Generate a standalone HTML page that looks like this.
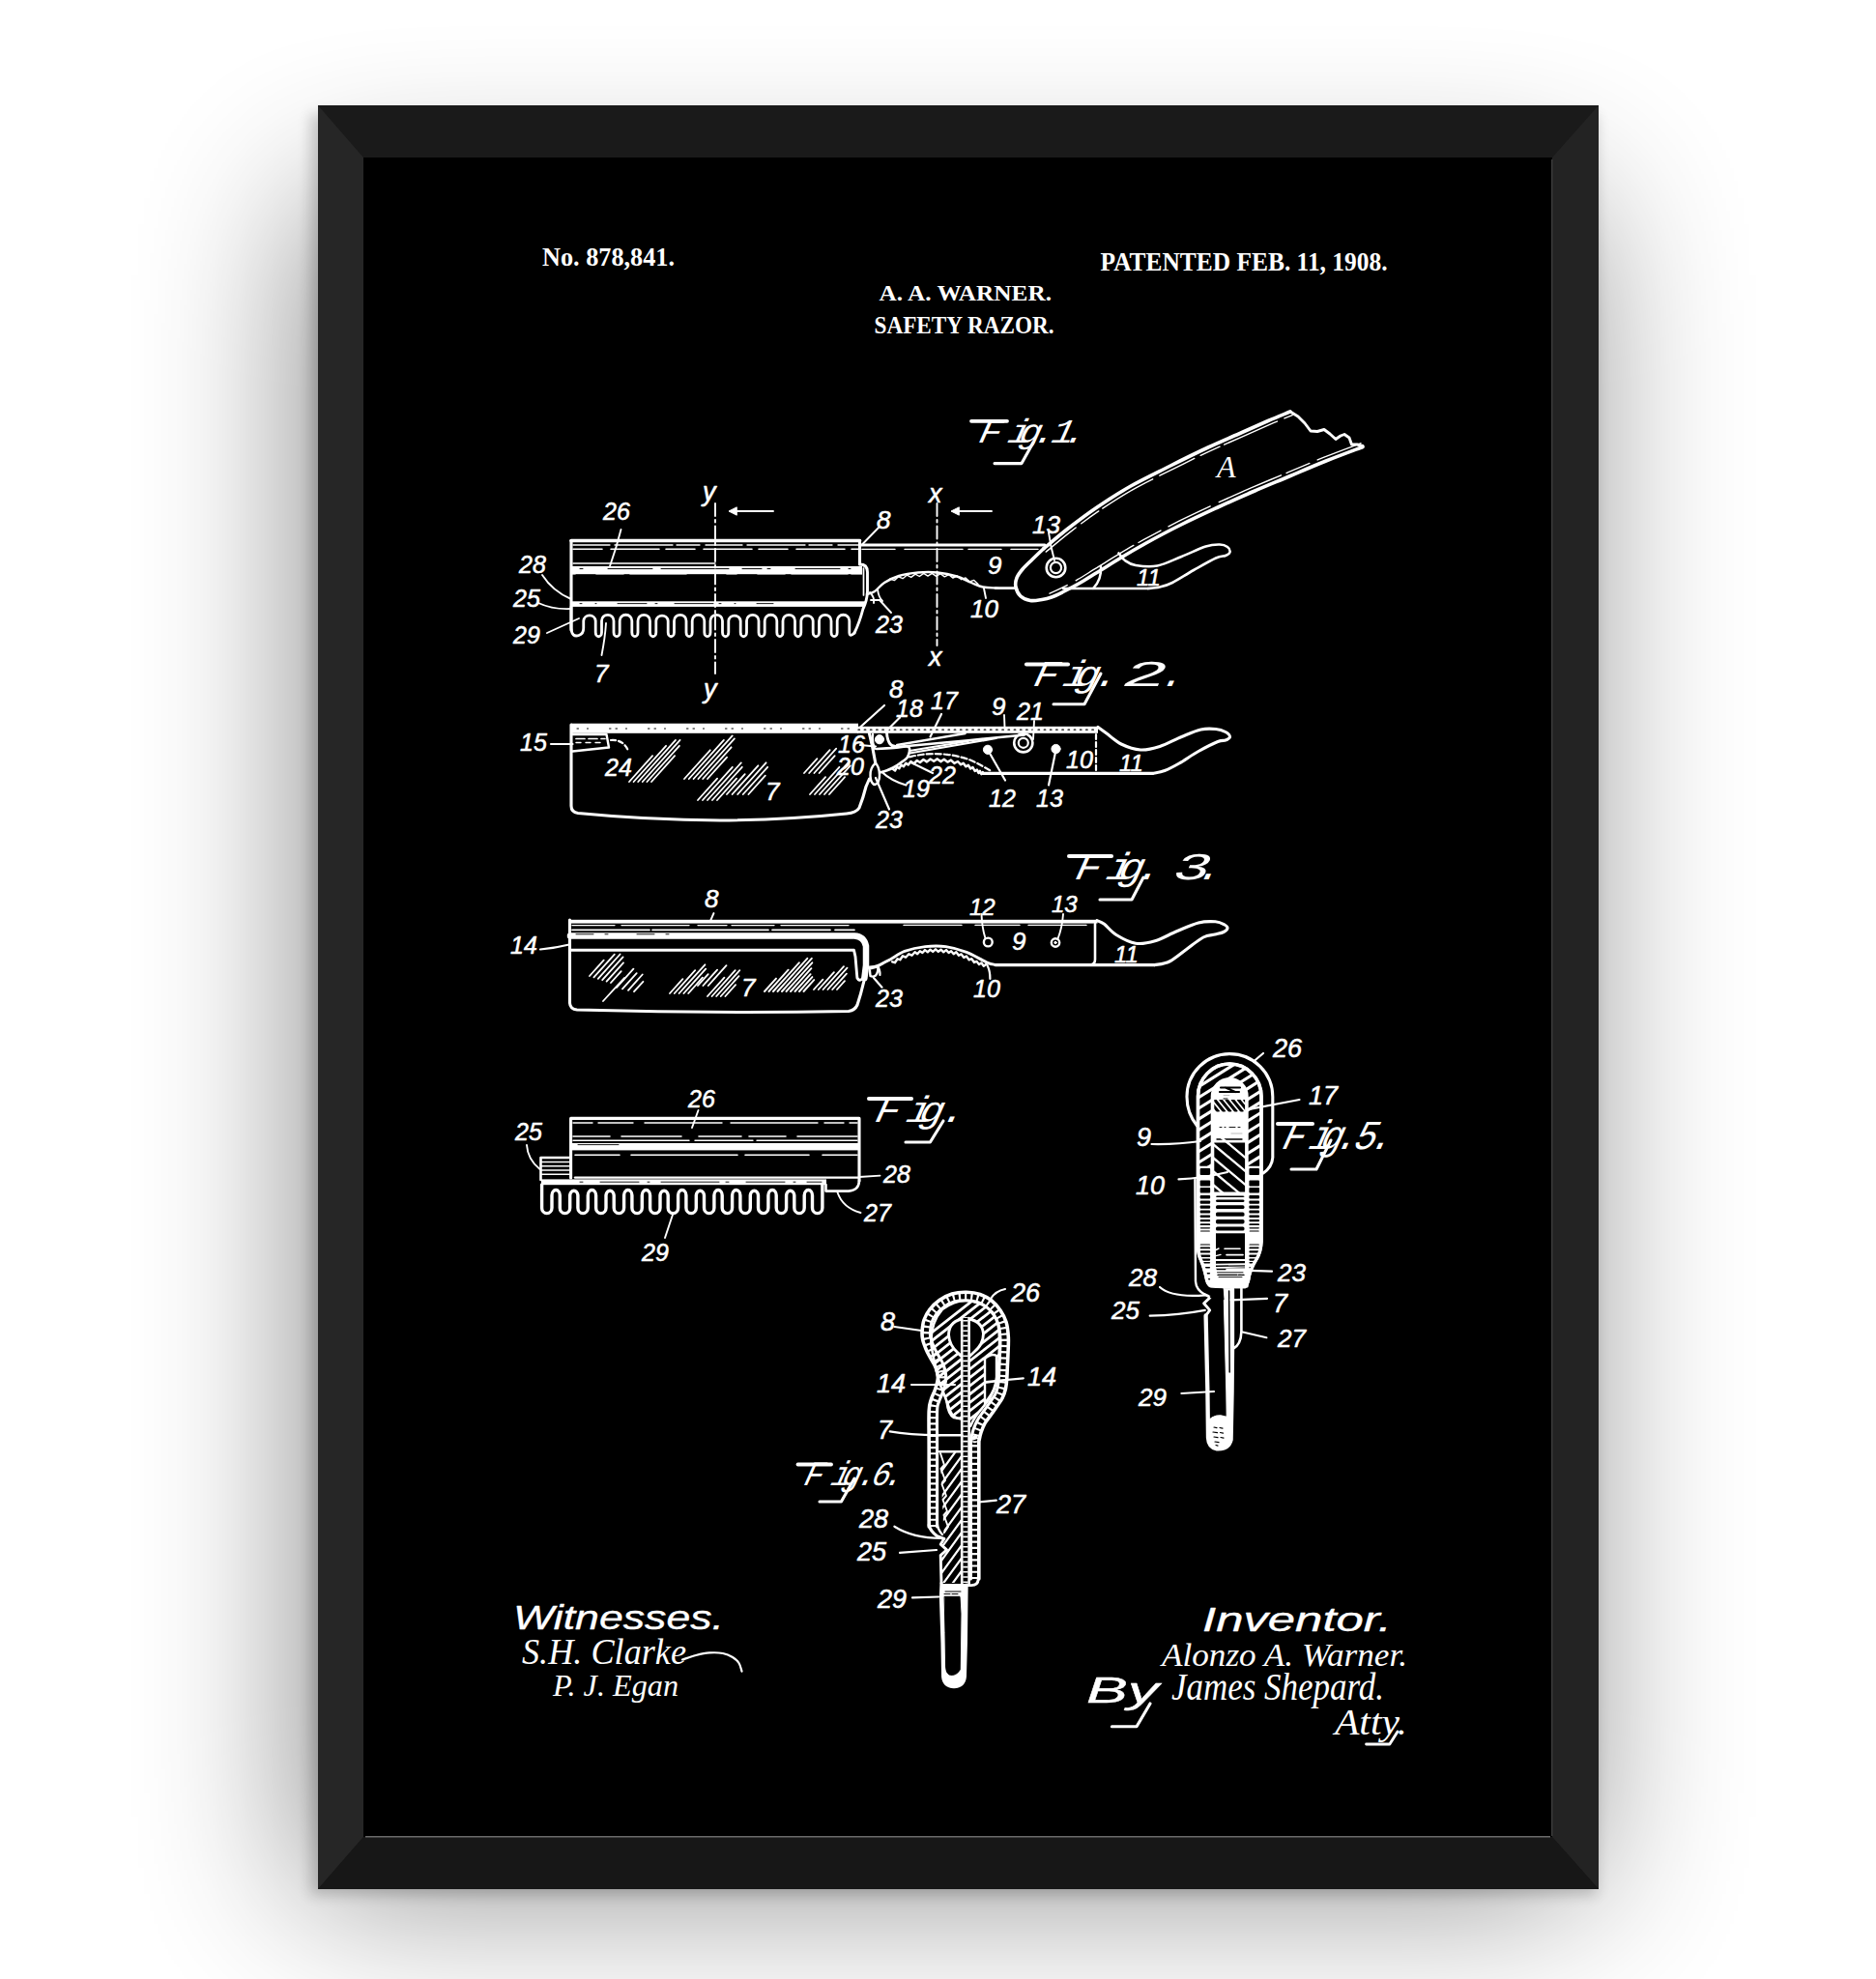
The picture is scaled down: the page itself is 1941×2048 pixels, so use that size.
<!DOCTYPE html>
<html lang="en"><head><meta charset="utf-8"><title>Safety Razor 1908 Patent Print</title>
<style>
html,body{margin:0;padding:0;background:#fff;}
body{width:1941px;height:2048px;overflow:hidden;position:relative;}
svg{display:block;position:absolute;left:0;top:0;}
.art{stroke:#fff;fill:none;stroke-linecap:round;stroke-linejoin:round;}
.art text{stroke:none;fill:#fff;}
.art text.n{stroke:#fff;stroke-width:.55px;}
.art text.wd{stroke:#fff;stroke-width:.35px;}
.art text.sg{stroke:none;}
.h{font-family:"Liberation Serif","DejaVu Serif",serif;font-weight:bold;}
.n{font-family:"Liberation Sans","DejaVu Sans",sans-serif;font-style:italic;}
.sg{font-family:"Liberation Serif","DejaVu Serif",serif;font-style:italic;}
.fm{font-family:"Liberation Mono","DejaVu Sans Mono",monospace;}
.wd{font-family:"Liberation Sans","DejaVu Sans",sans-serif;font-style:italic;}
</style></head><body>
<svg width="1941" height="2048" viewBox="0 0 1941 2048">
<defs>
<filter id="b1" x="-40%" y="-40%" width="180%" height="180%"><feGaussianBlur stdDeviation="85"/></filter>
<filter id="b2" x="-10%" y="-10%" width="120%" height="120%"><feGaussianBlur stdDeviation="7"/></filter>
</defs>
<rect width="1941" height="2048" fill="#fff"/>
<rect x="314" y="205" width="1325" height="1755" fill="#000" opacity="0.45" filter="url(#b1)"/>
<rect x="321" y="118" width="1331" height="1843" fill="#000" opacity="0.18" filter="url(#b2)"/>
<!-- frame -->
<rect x="329" y="109" width="1325" height="1846" fill="#1a1a1a"/>
<polygon points="329,109 1654,109 1606,163 376,163" fill="#1a1a1a"/>
<polygon points="329,109 376,163 376,1901 329,1955" fill="#262626"/>
<polygon points="1654,109 1654,1955 1606,1901 1606,163" fill="#232323"/>
<polygon points="329,1955 376,1901 1606,1901 1654,1955" fill="#171717"/>
<rect x="376" y="163" width="1230" height="1738" fill="#000"/>
<rect x="378" y="1900" width="1226" height="1.5" fill="#6a6a6a"/>
<rect x="1605" y="165" width="1.5" height="1735" fill="#3a3a3a"/>
<g class="art">
<text class="h" x="561" y="274.5" font-size="28" textLength="137" lengthAdjust="spacingAndGlyphs">No. 878,841.</text>
<text class="h" x="1138.5" y="280" font-size="28" textLength="297" lengthAdjust="spacingAndGlyphs">PATENTED FEB. 11, 1908.</text>
<text class="h" x="909.5" y="310.5" font-size="24" textLength="178.5" lengthAdjust="spacingAndGlyphs">A. A. WARNER.</text>
<text class="h" x="904.5" y="344.5" font-size="25" textLength="186" lengthAdjust="spacingAndGlyphs">SAFETY RAZOR.</text>
<path d="M591,652 V559.5 H889.5 V584" stroke-width="3.1" fill="none"/>
<line x1="591" y1="559.5" x2="889.5" y2="559.5" stroke-width="3.6"/>
<line x1="593" y1="564" x2="888" y2="564" stroke-width="1.3" stroke-dasharray="38 5 60 4 24 6"/>
<line x1="593" y1="568.3" x2="888" y2="568.3" stroke-width="1.6" stroke-dasharray="30 9 50 7"/>
<line x1="593" y1="583" x2="740" y2="583" stroke-width="1.4"/>
<rect x="592" y="586" width="300" height="8.6" fill="#fff" stroke="none"/>
<line x1="600" y1="588.6" x2="880" y2="588.6" stroke-width="1" stroke="#000" stroke-dasharray="3 26 46 9 70 14 20 6"/>
<line x1="596" y1="594.8" x2="880" y2="594.8" stroke-width="1" stroke="#000" stroke-dasharray="20 30 5 60 40 12"/>
<path d="M889.5,584 Q897.5,584 897.5,592 V612 Q897,622 893,630 Q889,645 884,655" stroke-width="2.9" fill="none"/>
<line x1="893.5" y1="588" x2="893.5" y2="616" stroke-width="1.7"/>
<rect x="591" y="622.3" width="304" height="5.6" fill="#fff" stroke="none"/>
<line x1="600" y1="624.6" x2="800" y2="624.6" stroke-width="0.9" stroke="#000" stroke-dasharray="2 14 1 22 30 9 2 18 40 6"/>
<path d="M591,628 V650 Q591.5,660 599,657.5 Q603.75,656 603.75,650 V642.5 A6.25,6.2 0 0 1 616.2,642.5 V654.5 A3.1,4.2 0 0 0 622.5,654.5 V642.5 A6.25,6.2 0 0 1 635,642.5 V654.5 A3.1,4.2 0 0 0 641.2,654.5 V642.5 A6.25,6.2 0 0 1 653.8,642.5 V654.5 A3.1,4.2 0 0 0 660,654.5 V642.5 A6.25,6.2 0 0 1 672.5,642.5 V654.5 A3.1,4.2 0 0 0 678.8,654.5 V642.5 A6.25,6.2 0 0 1 691.2,642.5 V654.5 A3.1,4.2 0 0 0 697.5,654.5 V642.5 A6.25,6.2 0 0 1 710,642.5 V654.5 A3.1,4.2 0 0 0 716.2,654.5 V642.5 A6.25,6.2 0 0 1 728.8,642.5 V654.5 A3.1,4.2 0 0 0 735,654.5 V642.5 A6.25,6.2 0 0 1 747.5,642.5 V654.5 A3.1,4.2 0 0 0 753.8,654.5 V642.5 A6.25,6.2 0 0 1 766.2,642.5 V654.5 A3.1,4.2 0 0 0 772.5,654.5 V642.5 A6.25,6.2 0 0 1 785,642.5 V654.5 A3.1,4.2 0 0 0 791.2,654.5 V642.5 A6.25,6.2 0 0 1 803.8,642.5 V654.5 A3.1,4.2 0 0 0 810,654.5 V642.5 A6.25,6.2 0 0 1 822.5,642.5 V654.5 A3.1,4.2 0 0 0 828.8,654.5 V642.5 A6.25,6.2 0 0 1 841.2,642.5 V654.5 A3.1,4.2 0 0 0 847.5,654.5 V642.5 A6.25,6.2 0 0 1 860,642.5 V654.5 A3.1,4.2 0 0 0 866.2,654.5 V642.5 A6.25,6.2 0 0 1 878.8,642.5 V654.5 Q879,660 884,655" stroke-width="2.8" fill="none"/>
<line x1="740" y1="521" x2="740" y2="697" stroke-width="1.9" stroke-dasharray="13 4 2.5 4"/>
<line x1="969.5" y1="521" x2="969.5" y2="668" stroke-width="1.9" stroke-dasharray="13 4 2.5 4"/>
<text class="n" x="727" y="518" font-size="27">y</text>
<text class="n" x="728" y="722" font-size="27">y</text>
<text class="n" x="961" y="520" font-size="27">x</text>
<text class="n" x="961" y="689" font-size="27">x</text>
<line x1="756" y1="529" x2="800" y2="529" stroke-width="1.9"/>
<path d="M762,525 L754,529 L762,533 Z" stroke-width="1" fill="#fff"/>
<line x1="986" y1="529" x2="1026" y2="529" stroke-width="1.9"/>
<path d="M992,525 L984,529 L992,533 Z" stroke-width="1" fill="#fff"/>
<line x1="889.5" y1="564" x2="1081" y2="564" stroke-width="3.1"/>
<line x1="892" y1="568.4" x2="1074" y2="568.4" stroke-width="1.4" stroke-dasharray="34 10 60 6"/>
<path d="M897,615 C898.3,614.5 902,614 905,612 C908,610 910.8,605.7 915,603 C919.2,600.3 924.2,597.8 930,596 C935.8,594.2 943.3,593.1 950,592.5 C956.7,591.9 963.3,591.8 970,592.5 C976.7,593.2 984.2,594.8 990,596.5 C995.8,598.2 1000.5,601.2 1005,603 C1009.5,604.8 1012.8,606.6 1017,607.5 C1021.2,608.4 1024.3,608.3 1030,608.5 C1035.7,608.7 1047.5,608.8 1051,608.8" stroke-width="2.4" fill="none"/>
<path d="M921,599 L925.3,600.6 L929.7,596.8 L934,598.7 L938.3,595.2 L942.7,597.4 L947,594.1 L951.3,596.5 L955.7,593.4 L960,596.1 L964.3,593.3 L968.7,596.3 L973,593.7 L977.3,596.9 L981.7,594.6 L986,598.1 L990.3,596 L994.7,599.7 L999,597.9 L1003.3,601.9 L1007.7,600.4 L1012,604.6" stroke-width="1.4" fill="none"/>
<path d="M900,613 Q905,618 904,624 M908,610 Q909,618 913,622 M901,621 H910" stroke-width="1.9" fill="none"/>
<path d="M1080,567.5 C1084.2,564.1 1095.8,554.1 1105,547 C1114.2,539.9 1124.2,532.3 1135,525 C1145.8,517.7 1157.5,510.1 1170,503 C1182.5,495.9 1196.7,489.2 1210,482.5 C1223.3,475.8 1237.5,468.8 1250,463 C1262.5,457.2 1274.7,452.1 1285,447.5 C1295.3,442.9 1303.7,439.1 1312,435.5 C1320.3,431.9 1331.2,427.6 1335,426" stroke-width="3.6" fill="none"/>
<path d="M1410,462.5 C1403.7,464.9 1384.5,472 1372,477 C1359.5,482 1347.5,487.2 1335,492.5 C1322.5,497.8 1309.5,503.1 1297,508.5 C1284.5,513.9 1272.5,519.2 1260,525 C1247.5,530.8 1234.5,536.8 1222,543 C1209.5,549.2 1195.3,556.8 1185,562.5 C1174.7,568.2 1168.3,572 1160,577 C1151.7,582 1142.2,588.1 1135,592.5 C1127.8,596.9 1122.8,600.2 1117,603.5 C1111.2,606.8 1104.8,610.1 1100,612.5 C1095.2,614.9 1091.7,616.7 1088,618 C1084.3,619.3 1081.7,619.9 1078,620.5 C1074.3,621.1 1069.7,622.1 1066,621.5 C1062.3,620.9 1058.5,619.3 1056,617 C1053.5,614.7 1051.7,610.7 1051,607.5 C1050.3,604.3 1050.8,601.1 1052,598 C1053.2,594.9 1055.3,592.2 1058,589 C1060.7,585.8 1064.3,582.6 1068,579 C1071.7,575.4 1078,569.4 1080,567.5" stroke-width="3.6" fill="none"/>
<path d="M1335,426 L1343,431 L1350,438 L1356,446 L1363,446.5 L1370,444.5 L1376,449 L1382,454.5 L1387,451 L1391,449.5 L1396,453 L1398.5,460 L1404,460 L1410,461.5" stroke-width="2.9" fill="none"/>
<path d="M1082.2,571.1 C1086.4,567.7 1098,557.7 1107.2,550.6 C1116.4,543.5 1126.4,535.9 1137.2,528.6 C1148,521.3 1159.7,513.7 1172.2,506.6 C1184.7,499.5 1198.9,492.8 1212.2,486.1 C1225.5,479.4 1239.7,472.4 1252.2,466.6 C1264.7,460.8 1276.9,455.7 1287.2,451.1 C1297.5,446.5 1305.9,442.7 1314.2,439.1 C1322.5,435.5 1333.4,431.2 1337.2,429.6" stroke-width="1.4" fill="none" stroke-dasharray="40 7 22 5 60 8"/>
<path d="M1408,458.7 C1401.7,461.1 1382.5,468.2 1370,473.2 C1357.5,478.2 1345.5,483.4 1333,488.7 C1320.5,493.9 1307.5,499.3 1295,504.7 C1282.5,510.1 1270.5,515.5 1258,521.2 C1245.5,527 1232.5,533 1220,539.2 C1207.5,545.5 1193.3,553 1183,558.7 C1172.7,564.4 1166.3,568.2 1158,573.2 C1149.7,578.2 1140.2,584.3 1133,588.7 C1125.8,593.1 1120.8,596.4 1115,599.7 C1109.2,603 1102.8,606.3 1098,608.7 C1093.2,611.1 1088,613.3 1086,614.2" stroke-width="1.4" fill="none" stroke-dasharray="48 9 26 6 70 10"/>
<circle cx="1092.5" cy="587.5" r="9.8" stroke-width="2.6" fill="none"/>
<circle cx="1092.5" cy="587.5" r="5.6" stroke-width="2.2" fill="none"/>
<path d="M1085,551 Q1087,566 1091,580" stroke-width="1.9" fill="none"/>
<path d="M1157.5,572.5 C1158.6,573.8 1161.1,577.9 1164,580 C1166.9,582.1 1169.4,584.1 1175,585 C1180.6,585.9 1189.6,587 1197.5,585.5 C1205.4,584 1214.2,579.3 1222.5,576 C1230.8,572.7 1240.9,567.6 1247.5,565.5 C1254.1,563.4 1258.2,563.4 1262,563.5 C1265.8,563.6 1268.2,564.7 1270,566 C1271.8,567.3 1272.8,570 1272.5,571.5 C1272.2,573 1270.4,574 1268,575 C1265.6,576 1263.5,575 1258,577.5 C1252.5,580 1242.5,585.8 1235,590 C1227.5,594.2 1218.8,600.1 1213,603 C1207.2,605.9 1204.2,606.5 1200,607.5 C1195.8,608.5 1190,608.8 1188,609" stroke-width="2.6" fill="none"/>
<line x1="1100" y1="609" x2="1188" y2="609" stroke-width="2.6"/>
<path d="M1139,586 Q1140,600 1131,609" stroke-width="2.4" fill="none"/>
<line x1="1030" y1="608.8" x2="1051" y2="608.8" stroke-width="2.4"/>
<text class="n" x="1068" y="552" font-size="26">13</text>
<text class="n" x="1022" y="594" font-size="26">9</text>
<text class="n" x="1004" y="639" font-size="26">10</text>
<line x1="1018" y1="609" x2="1020" y2="619" stroke-width="1.9"/>
<text class="n" x="1176" y="606" font-size="24">11</text>
<text class="sg" x="1259" y="494" font-size="32">A</text>
<text class="n" x="624" y="538" font-size="25">26</text>
<path d="M642.5,548 Q638,566 631,586" stroke-width="1.9" fill="none"/>
<text class="n" x="537" y="593" font-size="25">28</text>
<path d="M561,595 Q572,612 591,620" stroke-width="1.9" fill="none"/>
<text class="n" x="531" y="628" font-size="25">25</text>
<path d="M557,624 Q572,631 591,630" stroke-width="1.9" fill="none"/>
<text class="n" x="531" y="666" font-size="25">29</text>
<line x1="566" y1="655" x2="599" y2="640" stroke-width="1.9"/>
<text class="n" x="615" y="706" font-size="26">7</text>
<path d="M622.5,678 Q626,660 627,645" stroke-width="1.9" fill="none"/>
<text class="n" x="907" y="547" font-size="26">8</text>
<line x1="909" y1="546" x2="892.5" y2="563" stroke-width="1.9"/>
<text class="n" x="906" y="655" font-size="25">23</text>
<line x1="922" y1="634" x2="910" y2="621" stroke-width="1.9"/>
<g transform="translate(1009.4,458) skewX(-24) scale(1.1,1)"><text class="fm" x="0 27.7 38.1 51.3 68.5 80" y="0" font-size="34.8" stroke="#fff" stroke-width="1.4">Fig.1.</text></g>
<path d="M1029,479.6 H1057 L1069,458" stroke-width="3.1" fill="none"/>
<line x1="1005" y1="435.8" x2="1042" y2="435.8" stroke-width="3.8"/>
<rect x="591" y="748.7" width="297" height="10.1" fill="#fff" stroke="none"/>
<rect x="887" y="751.8" width="249" height="7" fill="#fff" stroke="none"/>
<line x1="597" y1="754" x2="885" y2="754" stroke-width="1" stroke="#000" stroke-dasharray="1.5 9 1 22 1.5 5"/>
<line x1="888" y1="755.2" x2="1134" y2="755.2" stroke-width="1.2" stroke="#000" stroke-dasharray="1.6 4.6"/>
<path d="M591,750 V834 Q591,840.5 598,841.5 Q670,848.5 745,849 Q815,848.5 876,842 Q886,841 889,836 Q893,826 896,814 L899.5,806" stroke-width="3.1" fill="none"/>
<path d="M899.4,758.8 L902.6,772.6 L905.8,789.7" stroke-width="3.1" fill="none"/>
<path d="M905.8,789.7 Q900,795 900.5,803 Q901,811 905,812 Q910,811 910,802 Q910,794 905.8,789.7 Z" stroke-width="2.4" fill="none"/>
<path d="M899.5,806 Q902,809 904,812" stroke-width="1.9" fill="none"/>
<path d="M592.5,760 H627.5 L630,773.5 L592.5,777.5" stroke-width="2.4" fill="none"/>
<line x1="596" y1="764.5" x2="626" y2="764.5" stroke-width="1.7" stroke-dasharray="9 4"/>
<line x1="596" y1="768.5" x2="622" y2="768.5" stroke-width="1.4" stroke-dasharray="5 5"/>
<path d="M632,766 Q645,765 650,777" stroke-width="2.2" fill="none" stroke-dasharray="5 3"/>
<line x1="651" y1="809" x2="675.1" y2="782.2" stroke-width="1.8"/>
<line x1="655.6" y1="809" x2="689.1" y2="771.8" stroke-width="1.8"/>
<line x1="660.2" y1="809" x2="699" y2="765.9" stroke-width="1.8"/>
<line x1="664.8" y1="809" x2="703.6" y2="765.9" stroke-width="1.8"/>
<line x1="669.4" y1="809" x2="702.9" y2="771.8" stroke-width="1.8"/>
<line x1="674" y1="809" x2="698.1" y2="782.2" stroke-width="1.8"/>
<line x1="708" y1="806" x2="734.8" y2="776.3" stroke-width="1.8"/>
<line x1="712.8" y1="806" x2="748.9" y2="765.9" stroke-width="1.8"/>
<line x1="717.6" y1="806" x2="757.7" y2="761.4" stroke-width="1.8"/>
<line x1="722.4" y1="806" x2="759.9" y2="764.4" stroke-width="1.8"/>
<line x1="727.2" y1="806" x2="756.6" y2="773.3" stroke-width="1.8"/>
<line x1="732" y1="806" x2="752.1" y2="783.7" stroke-width="1.8"/>
<line x1="722" y1="828" x2="742.1" y2="805.7" stroke-width="1.8"/>
<line x1="727" y1="828" x2="757.8" y2="793.8" stroke-width="1.8"/>
<line x1="732" y1="828" x2="766.8" y2="789.4" stroke-width="1.8"/>
<line x1="737" y1="828" x2="767.8" y2="793.8" stroke-width="1.8"/>
<line x1="742" y1="828" x2="762.1" y2="805.7" stroke-width="1.8"/>
<line x1="752" y1="822" x2="770.7" y2="801.2" stroke-width="1.8"/>
<line x1="757.6" y1="822" x2="784.4" y2="792.3" stroke-width="1.8"/>
<line x1="763.2" y1="822" x2="792.6" y2="789.3" stroke-width="1.8"/>
<line x1="768.8" y1="822" x2="794.2" y2="793.8" stroke-width="1.8"/>
<line x1="774.4" y1="822" x2="791.8" y2="802.7" stroke-width="1.8"/>
<line x1="832" y1="800" x2="845.4" y2="785.1" stroke-width="1.8"/>
<line x1="837.2" y1="800" x2="858.6" y2="776.2" stroke-width="1.8"/>
<line x1="842.4" y1="800" x2="865.2" y2="774.7" stroke-width="1.8"/>
<line x1="847.6" y1="800" x2="863.7" y2="782.2" stroke-width="1.8"/>
<line x1="838" y1="822" x2="854.1" y2="804.2" stroke-width="1.8"/>
<line x1="843" y1="822" x2="868.4" y2="793.8" stroke-width="1.8"/>
<line x1="848" y1="822" x2="878.8" y2="787.8" stroke-width="1.8"/>
<line x1="853" y1="822" x2="879.8" y2="792.3" stroke-width="1.8"/>
<line x1="858" y1="822" x2="874.1" y2="804.2" stroke-width="1.8"/>
<circle cx="910" cy="765.2" r="4.6" stroke-width="1" fill="#fff"/>
<path d="M917.6,758.8 Q918,765 920,768.5 Q922,772.6 928.2,772.6" stroke-width="2.9" fill="none"/>
<path d="M903,760 Q902,768 905,774.8" stroke-width="2.4" fill="none"/>
<line x1="890" y1="771" x2="906" y2="772.5" stroke-width="2.2"/>
<path d="M928.2,771 L998.6,759" stroke-width="2.4" fill="none"/>
<path d="M928.2,773 L1001.8,766.2 L1060,760.5" stroke-width="2.6" fill="none"/>
<path d="M941,777 L1001.8,767" stroke-width="2.2" fill="none"/>
<path d="M941,779.5 L1030.6,764" stroke-width="2.2" fill="none"/>
<path d="M907,775 C910,774.8 919.5,774.3 925,774 C930.5,773.7 937.7,771.5 940,773 C942.3,774.5 940.5,780.5 939,783.3 C937.5,786.1 933.5,788.1 931,790 C928.5,791.9 926.3,793.2 924,794.5 C921.7,795.8 919.2,796.7 917,797.5 C914.8,798.3 912,799 911,799.3" stroke-width="2.6" fill="none"/>
<path d="M941,783.3 C943,782.9 948.7,781.5 953,781 C957.3,780.5 962.1,780.1 966.6,780.1 C971.1,780.1 975.5,780.3 980,780.8 C984.5,781.3 989.1,782.3 993.3,783.3 C997.5,784.3 1001.5,785.6 1005,787 C1008.5,788.4 1011.4,790.1 1014.6,791.8 C1017.8,793.5 1022.6,796.3 1024.2,797.2" stroke-width="2.2" fill="none" stroke-dasharray="6 3"/>
<path d="M924,795.9 L926.1,797.4 L928.2,793.7 L930.4,795.2 L932.5,791.5 L934.9,793.2 L937.3,789.8 L939.7,791.5 L942.4,788.1 L945.6,790.2 L948.8,787 L951.9,789 L955.4,786 L959,788.4 L962.6,785.5 L966.2,787.8 L969.8,785.4 L973.3,788.1 L976.8,785.7 L980.4,788.6 L983.9,786.6 L987.4,789.9 L991,788 L994.2,791.3 L996.7,789.7 L999.3,793.3 L1001.9,791.8 L1004.2,795.5 L1006.5,794.1 L1008.7,798 L1010.9,796.6 L1012.5,800 L1013.9,797.9 L1015.3,801.1 L1016.7,799.1" stroke-width="2.5" fill="none"/>
<path d="M1016.7,800.4 H1192.5" stroke-width="3.1" fill="none"/>
<path d="M1136,752.5 C1137.5,753.6 1141,756.1 1145,759 C1149,761.9 1154.2,767.2 1160,770 C1165.8,772.8 1173.3,775.6 1180,776 C1186.7,776.4 1192.9,774.8 1200,772.5 C1207.1,770.2 1215.4,765.4 1222.5,762.5 C1229.6,759.6 1236.6,756.3 1242.5,755 C1248.4,753.7 1253.8,754.1 1258,754.5 C1262.2,754.9 1265.6,756.2 1268,757.5 C1270.4,758.8 1272.5,761.1 1272.5,762.5 C1272.5,763.9 1270.1,765.2 1268,766 C1265.9,766.8 1264.7,765.6 1260,767.5 C1255.3,769.4 1246.7,773.8 1240,777.5 C1233.3,781.2 1225.8,786.7 1220,790 C1214.2,793.3 1209.6,795.8 1205,797.5 C1200.4,799.2 1194.6,799.9 1192.5,800.4" stroke-width="3.1" fill="none"/>
<line x1="1134" y1="760" x2="1134" y2="800" stroke-width="2.2" stroke-dasharray="5 3"/>
<circle cx="1022" cy="775.8" r="4.6" stroke-width="1" fill="#fff"/>
<circle cx="1092.5" cy="775" r="4.6" stroke-width="1" fill="#fff"/>
<circle cx="1058.8" cy="768.8" r="9.6" stroke-width="2.6" fill="none"/>
<circle cx="1058.8" cy="768.8" r="5" stroke-width="2.2" fill="none"/>
<line x1="1022" y1="776" x2="1040" y2="807.5" stroke-width="2.2"/>
<line x1="1092.5" y1="776" x2="1085" y2="812.5" stroke-width="2.2"/>
<text class="n" x="538" y="777" font-size="25">15</text>
<line x1="570" y1="770" x2="592.5" y2="770" stroke-width="2.2"/>
<text class="n" x="626" y="803" font-size="25">24</text>
<text class="n" x="792" y="828" font-size="26">7</text>
<text class="n" x="920" y="722" font-size="26">8</text>
<line x1="915" y1="730" x2="890" y2="752.5" stroke-width="2.2"/>
<text class="n" x="927" y="742" font-size="25">18</text>
<line x1="931" y1="742.5" x2="916" y2="757.5" stroke-width="2.2"/>
<text class="n" x="963" y="734" font-size="25">17</text>
<line x1="974" y1="739" x2="962.5" y2="762.5" stroke-width="2.2"/>
<text class="n" x="867" y="779" font-size="25">16</text>
<text class="n" x="866" y="802" font-size="25">20</text>
<text class="n" x="961" y="811" font-size="25">22</text>
<line x1="965" y1="800" x2="942.5" y2="789" stroke-width="2.2"/>
<text class="n" x="934" y="825" font-size="25">19</text>
<path d="M937.5,812.5 Q922,808 912.5,799" stroke-width="2.2" fill="none"/>
<text class="n" x="906" y="857" font-size="25">23</text>
<line x1="920" y1="837.5" x2="906" y2="805" stroke-width="2.2"/>
<text class="n" x="1026" y="740" font-size="26">9</text>
<line x1="1039" y1="740" x2="1039.5" y2="752.5" stroke-width="1.9"/>
<text class="n" x="1052" y="745" font-size="25">21</text>
<line x1="1070" y1="746" x2="1069" y2="765" stroke-width="1.9"/>
<text class="n" x="1103" y="795" font-size="25">10</text>
<text class="n" x="1158" y="798" font-size="24">11</text>
<text class="n" x="1023" y="835" font-size="25">12</text>
<text class="n" x="1072" y="835" font-size="25">13</text>
<g transform="translate(1066.1,710.4) skewX(-24) scale(1.1,1)"><text class="fm" x="0 27.7 39 56.9" y="0" font-size="37.9" stroke="#fff" stroke-width="1.4">Fig.</text></g>
<g transform="translate(1157.7,710.4) skewX(-24) scale(2,1)"><text class="fm" x="0" y="0" font-size="37.9" stroke="#fff" stroke-width="1.4">2</text></g>
<g transform="translate(1197.5,710.4) skewX(-24) scale(1.1,1)"><text class="fm" x="0" y="0" font-size="37.9" stroke="#fff" stroke-width="1.4">.</text></g>
<path d="M1090,728.8 H1122 L1139,697" stroke-width="3.1" fill="none"/>
<line x1="1062" y1="687.5" x2="1105" y2="687.5" stroke-width="4.1"/>
<rect x="589.5" y="951.8" width="546" height="3.8" fill="#fff" stroke="none"/>
<line x1="592" y1="957.6" x2="885" y2="957.6" stroke-width="1.4" stroke-dasharray="44 7 70 9 30 5"/>
<line x1="935" y1="957.4" x2="1128" y2="957.4" stroke-width="1.4" stroke-dasharray="60 14 46 9"/>
<line x1="592" y1="962.3" x2="884" y2="962.3" stroke-width="1.7" stroke-dasharray="80 3 120 4 60 5"/>
<path d="M590,968.5 H884 Q894,969 896,979 V999 L894.4,1012" stroke-width="6.5" fill="none"/>
<line x1="596" y1="966.8" x2="700" y2="966.8" stroke-width="0.9" stroke="#000" stroke-dasharray="18 12 3 30"/>
<path d="M590,983.3 H883.5 L885,990 L886.9,1012 Q889,1016 892,1013" stroke-width="2.9" fill="none"/>
<path d="M589.5,952 V1038 Q590,1044.5 597,1045 Q740,1049 878,1046.5 Q884.5,1045.5 887,1040 Q891,1028 894.4,1013" stroke-width="3.1" fill="none"/>
<line x1="610" y1="1010" x2="624.7" y2="993.7" stroke-width="1.8"/>
<line x1="614.4" y1="1011.4" x2="635.8" y2="987.6" stroke-width="1.8"/>
<line x1="618.8" y1="1012.8" x2="641.6" y2="987.5" stroke-width="1.8"/>
<line x1="623.2" y1="1014.2" x2="644.6" y2="990.4" stroke-width="1.8"/>
<line x1="627.6" y1="1015.6" x2="645" y2="996.3" stroke-width="1.8"/>
<line x1="632" y1="1017" x2="642.7" y2="1005.1" stroke-width="1.8"/>
<line x1="638" y1="1022" x2="655.4" y2="1002.7" stroke-width="1.8"/>
<line x1="644" y1="1023.4" x2="658.7" y2="1007.1" stroke-width="1.8"/>
<line x1="650" y1="1024.8" x2="664.7" y2="1008.5" stroke-width="1.8"/>
<line x1="656" y1="1026.2" x2="665.4" y2="1015.8" stroke-width="1.8"/>
<line x1="624" y1="1036" x2="646" y2="1012" stroke-width="1.8"/>
<line x1="693" y1="1028" x2="706.4" y2="1013.1" stroke-width="1.8"/>
<line x1="697.8" y1="1028" x2="719.2" y2="1004.2" stroke-width="1.8"/>
<line x1="702.6" y1="1028" x2="729.4" y2="998.3" stroke-width="1.8"/>
<line x1="707.4" y1="1028" x2="730.2" y2="1002.7" stroke-width="1.8"/>
<line x1="712.2" y1="1028" x2="726.9" y2="1011.7" stroke-width="1.8"/>
<line x1="722" y1="1020" x2="732.7" y2="1008.1" stroke-width="1.8"/>
<line x1="727.4" y1="1020" x2="742.1" y2="1003.7" stroke-width="1.8"/>
<line x1="732.8" y1="1020" x2="751.5" y2="999.2" stroke-width="1.8"/>
<line x1="732" y1="1031" x2="749.4" y2="1011.7" stroke-width="1.8"/>
<line x1="736.6" y1="1031" x2="760.7" y2="1004.2" stroke-width="1.8"/>
<line x1="741.2" y1="1031" x2="765.3" y2="1004.2" stroke-width="1.8"/>
<line x1="745.8" y1="1031" x2="764.5" y2="1010.2" stroke-width="1.8"/>
<line x1="750.4" y1="1031" x2="761.1" y2="1019.1" stroke-width="1.8"/>
<line x1="791" y1="1026" x2="803" y2="1012.6" stroke-width="1.9"/>
<line x1="795.5" y1="1026" x2="815.6" y2="1003.7" stroke-width="1.9"/>
<line x1="800" y1="1026" x2="826.8" y2="996.3" stroke-width="1.9"/>
<line x1="804.5" y1="1026" x2="835.3" y2="991.8" stroke-width="1.9"/>
<line x1="809" y1="1026" x2="839.8" y2="991.8" stroke-width="1.9"/>
<line x1="813.5" y1="1026" x2="840.3" y2="996.3" stroke-width="1.9"/>
<line x1="818" y1="1026" x2="839.4" y2="1002.2" stroke-width="1.9"/>
<line x1="822.5" y1="1026" x2="838.6" y2="1008.2" stroke-width="1.9"/>
<line x1="827" y1="1026" x2="840.4" y2="1011.1" stroke-width="1.9"/>
<line x1="831.5" y1="1026" x2="842.2" y2="1014.1" stroke-width="1.9"/>
<line x1="842" y1="1024" x2="851.4" y2="1013.6" stroke-width="1.8"/>
<line x1="846.8" y1="1024" x2="862.9" y2="1006.2" stroke-width="1.8"/>
<line x1="851.6" y1="1024" x2="873" y2="1000.2" stroke-width="1.8"/>
<line x1="856.4" y1="1024" x2="876.5" y2="1001.7" stroke-width="1.8"/>
<line x1="861.2" y1="1024" x2="875.9" y2="1007.7" stroke-width="1.8"/>
<line x1="866" y1="1024" x2="874" y2="1015.1" stroke-width="1.8"/>
<path d="M897.6,1001.4 C899.4,1001 904.3,1000.7 908.2,999.3 C912.1,997.9 916.4,995.4 921,992.9 C925.6,990.4 930,986.6 936,984.4 C942,982.2 950.2,980.4 957.3,979.6 C964.4,978.8 971.5,978.6 978.6,979.6 C985.7,980.6 992.9,982.6 1000,985.4 C1007.1,988.1 1016.2,993.9 1021.2,996.1 C1026.2,998.3 1028.4,998 1029.8,998.4" stroke-width="2.9" fill="none"/>
<path d="M923.2,995.3 L925.9,996.2 L928.6,992.3 L931.3,993.2 L934,989.3 L937.1,990.7 L940.3,987.3 L943.5,988.7 L946.6,985.3 L949.2,987.2 L951.8,984.2 L954.4,986 L957,983.1 L959.8,985.3 L962.5,982.7 L965.2,984.9 L968,982.3 L970.8,984.9 L973.5,982.7 L976.2,985.3 L979,983.1 L981.6,986 L984.1,984.2 L986.7,987.2 L989.3,985.3 L992,988.8 L994.6,987.4 L997.3,990.9 L1000,989.6 L1002.6,993.3 L1005.3,992.2 L1008,996 L1010.6,994.9 L1013,998.1 L1015.4,996.5 L1017.8,999.7 L1020.2,998.1" stroke-width="2.4" fill="none"/>
<path d="M899.7,1002.5 L908.2,1000.4 Q909,1006 906,1009.5 Q903,1011.5 900.5,1010 Z" stroke-width="2.4" fill="none"/>
<path d="M908.5,1000 Q911,1006 910.4,1009 M909,1000 Q914,996 921,993" stroke-width="2.2" fill="none"/>
<line x1="904" y1="1012" x2="912.5" y2="1021.7" stroke-width="2.2"/>
<line x1="1029.8" y1="998.6" x2="1195" y2="998.6" stroke-width="3.1"/>
<path d="M1133,956 V993 Q1133,998 1128,998.6" stroke-width="2.6" fill="none"/>
<path d="M1135,952.6 C1136.2,953.2 1139.2,953.8 1142.5,956.3 C1145.8,958.8 1149.6,964.2 1155,967.5 C1160.4,970.8 1168.3,975.2 1175,976.3 C1181.7,977.3 1187.9,975.9 1195,973.8 C1202.1,971.7 1210,966.9 1217.5,963.8 C1225,960.7 1233.3,956.7 1240,955 C1246.7,953.3 1253,953.5 1257.5,953.8 C1262,954.1 1264.9,955.9 1267,957 C1269.1,958.1 1270.2,959.2 1270,960.5 C1269.8,961.8 1268.2,963.4 1266,964.5 C1263.8,965.6 1260.5,966.1 1257,967 C1253.5,967.9 1249.9,967.4 1245,970 C1240.1,972.6 1233.3,978.3 1227.5,982.5 C1221.7,986.7 1215.4,992.3 1210,995 C1204.6,997.7 1197.5,998 1195,998.6" stroke-width="3.1" fill="none"/>
<circle cx="1022.3" cy="975" r="4.4" stroke-width="2.4" fill="none"/>
<circle cx="1092" cy="975.5" r="4.2" stroke-width="2.4" fill="none"/>
<circle cx="1092" cy="975.5" r="1.2" stroke-width="1" fill="#fff"/>
<path d="M1015.5,946 Q1016,960 1019.5,971" stroke-width="1.9" fill="none"/>
<path d="M1100,946 Q1099,960 1094.5,971.5" stroke-width="1.9" fill="none"/>
<path d="M1021.5,999 Q1024.5,1005 1024.4,1013" stroke-width="2.2" fill="none"/>
<text class="n" x="729" y="939" font-size="26">8</text>
<line x1="738.5" y1="945" x2="735" y2="953" stroke-width="1.9"/>
<text class="n" x="528" y="987" font-size="25">14</text>
<path d="M559,982.5 Q575,981 589,977.5" stroke-width="2.2" fill="none"/>
<text class="n" x="767" y="1031" font-size="26">7</text>
<text class="n" x="906" y="1042" font-size="25">23</text>
<text class="n" x="1003" y="947" font-size="24">12</text>
<text class="n" x="1088" y="944" font-size="24">13</text>
<text class="n" x="1047" y="983" font-size="26">9</text>
<text class="n" x="1007" y="1032" font-size="25">10</text>
<text class="n" x="1153" y="996" font-size="24">11</text>
<g transform="translate(1108.9,910) skewX(-24) scale(1.1,1)"><text class="fm" x="0 29.5 40.8 57.6" y="0" font-size="39.4" stroke="#fff" stroke-width="1.4">Fig.</text></g>
<g transform="translate(1210.2,910) skewX(-24) scale(1.6,1)"><text class="fm" x="0" y="0" font-size="39.4" stroke="#fff" stroke-width="1.4">3</text></g>
<g transform="translate(1235.1,910) skewX(-24) scale(1.1,1)"><text class="fm" x="0" y="0" font-size="39.4" stroke="#fff" stroke-width="1.4">.</text></g>
<path d="M1138,931 H1171 L1183,908" stroke-width="3.1" fill="none"/>
<line x1="1106" y1="886" x2="1150" y2="886" stroke-width="4.1"/>
<path d="M590.6,1219 V1157.4 H889 V1222" stroke-width="3.1" fill="none"/>
<line x1="593" y1="1162" x2="887" y2="1162" stroke-width="1.4" stroke-dasharray="20 6 36 12 80 9 90 7"/>
<line x1="593" y1="1176" x2="887" y2="1176" stroke-width="1.6" stroke-dasharray="38 12 62 18 44 8"/>
<line x1="593" y1="1180.2" x2="887" y2="1180.2" stroke-width="1.4" stroke-dasharray="120 6 60 4"/>
<rect x="591" y="1183" width="298" height="7.4" fill="#fff" stroke="none"/>
<line x1="598" y1="1184.6" x2="640" y2="1184.6" stroke-width="0.9" stroke="#000"/>
<line x1="595" y1="1195.3" x2="887" y2="1195.3" stroke-width="1.6" stroke-dasharray="46 12 110 8 66 14"/>
<line x1="595" y1="1218.6" x2="889" y2="1218.6" stroke-width="2.4"/>
<rect x="560" y="1220.4" width="295" height="5.8" fill="#fff" stroke="none"/>
<line x1="600" y1="1223.2" x2="850" y2="1223.2" stroke-width="0.9" stroke="#000" stroke-dasharray="3 18 40 9 2 12 60 7"/>
<path d="M590.6,1198 H559.5 V1221" stroke-width="2.6" fill="none"/>
<line x1="560" y1="1202.5" x2="590" y2="1202.5" stroke-width="1.6"/>
<line x1="560" y1="1206.8" x2="590" y2="1206.8" stroke-width="1.6"/>
<line x1="560" y1="1211" x2="590" y2="1211" stroke-width="1.6"/>
<line x1="560" y1="1215.2" x2="590" y2="1215.2" stroke-width="1.6"/>
<path d="M854.5,1226 V1232.6 H878 Q888.5,1232 889,1222" stroke-width="2.6" fill="none"/>
<path d="M560.6,1226 V1248 V1250 A5.2,5.6 0 0 0 571,1250 V1237 A4.13,5.4 0 0 1 579.3,1237 V1250 A5.2,5.6 0 0 0 589.7,1250 V1237 A4.13,5.4 0 0 1 597.9,1237 V1250 A5.2,5.6 0 0 0 608.3,1250 V1237 A4.13,5.4 0 0 1 616.6,1237 V1250 A5.2,5.6 0 0 0 627,1250 V1237 A4.13,5.4 0 0 1 635.2,1237 V1250 A5.2,5.6 0 0 0 645.6,1250 V1237 A4.13,5.4 0 0 1 653.9,1237 V1250 A5.2,5.6 0 0 0 664.3,1250 V1237 A4.13,5.4 0 0 1 672.6,1237 V1250 A5.2,5.6 0 0 0 683,1250 V1237 A4.13,5.4 0 0 1 691.2,1237 V1250 A5.2,5.6 0 0 0 701.6,1250 V1237 A4.13,5.4 0 0 1 709.9,1237 V1250 A5.2,5.6 0 0 0 720.3,1250 V1237 A4.13,5.4 0 0 1 728.5,1237 V1250 A5.2,5.6 0 0 0 738.9,1250 V1237 A4.13,5.4 0 0 1 747.2,1237 V1250 A5.2,5.6 0 0 0 757.6,1250 V1237 A4.13,5.4 0 0 1 765.9,1237 V1250 A5.2,5.6 0 0 0 776.3,1250 V1237 A4.13,5.4 0 0 1 784.5,1237 V1250 A5.2,5.6 0 0 0 794.9,1250 V1237 A4.13,5.4 0 0 1 803.2,1237 V1250 A5.2,5.6 0 0 0 813.6,1250 V1237 A4.13,5.4 0 0 1 821.8,1237 V1250 A5.2,5.6 0 0 0 832.2,1250 V1237 A4.13,5.4 0 0 1 840.5,1237 V1250 A5.2,5.6 0 0 0 850.9,1250 V1237 V1226" stroke-width="3.4" fill="none"/>
<text class="n" x="712" y="1146" font-size="25">26</text>
<line x1="722.5" y1="1149" x2="716" y2="1167" stroke-width="1.9"/>
<text class="n" x="533" y="1180" font-size="25">25</text>
<path d="M545,1185 Q546,1200 558.6,1210" stroke-width="1.9" fill="none"/>
<text class="n" x="914" y="1224" font-size="25">28</text>
<line x1="889" y1="1218" x2="910.5" y2="1216.6" stroke-width="1.9"/>
<text class="n" x="894" y="1264" font-size="25">27</text>
<path d="M866.5,1234 Q872,1250 890.5,1255" stroke-width="1.9" fill="none"/>
<text class="n" x="664" y="1305" font-size="25">29</text>
<line x1="696" y1="1257" x2="688" y2="1281" stroke-width="1.9"/>
<g transform="translate(902.1,1160.6) skewX(-24) scale(1.1,1)"><text class="fm" x="0 29.5 41.6 62.1" y="0" font-size="37.9" stroke="#fff" stroke-width="1.4">Fig.</text></g>
<path d="M937,1182 H962.4 L976,1160" stroke-width="3.1" fill="none"/>
<line x1="899" y1="1137" x2="943" y2="1137" stroke-width="4.1"/>
<path d="M1238.5,1165 Q1228,1152 1228,1135 A44.4,44.4 0 0 1 1316.8,1135 V1198 Q1316,1208 1307,1214" stroke-width="3.1" fill="none"/>
<path d="M1236.4,1221 L1237,1326 Q1237.5,1335 1246.8,1339.8" stroke-width="2.4" fill="none"/>
<clipPath id="c5b"><path d="M1239.5,1134.5 A32.7,33.4 0 0 1 1305,1134.5 V1285 Q1304.5,1296 1300,1303 Q1294,1313 1292.2,1321 Q1291.5,1328 1288,1331.5 H1254 Q1250,1330 1248.5,1324 Q1246,1312 1243,1305 Q1239.8,1299 1239.5,1290 Z"/></clipPath>
<clipPath id="c5c"><path d="M1254.5,1134.8 A17.7,18 0 0 1 1289.9,1134.8 V1326 Q1289.9,1331.5 1284,1331.5 H1260 Q1254.5,1331.5 1254.5,1326 Z"/></clipPath>
<path d="M1239.5,1134.5 A32.7,33.4 0 0 1 1305,1134.5 V1285 Q1304.5,1296 1300,1303 Q1294,1313 1292.2,1321 Q1291.5,1328 1288,1331.5 H1254 Q1250,1330 1248.5,1324 Q1246,1312 1243,1305 Q1239.8,1299 1239.5,1290 Z" stroke-width="3.4" fill="#000"/>
<g clip-path="url(#c5b)">
<line x1="1236" y1="1116" x2="1308" y2="1071" stroke-width="3.1"/>
<line x1="1236" y1="1127.2" x2="1308" y2="1082.2" stroke-width="3.1"/>
<line x1="1236" y1="1138.4" x2="1308" y2="1093.4" stroke-width="3.1"/>
<line x1="1236" y1="1149.6" x2="1308" y2="1104.6" stroke-width="3.1"/>
<line x1="1236" y1="1160.8" x2="1308" y2="1115.8" stroke-width="3.1"/>
<line x1="1236" y1="1172" x2="1308" y2="1127" stroke-width="3.1"/>
<line x1="1236" y1="1183.2" x2="1308" y2="1138.2" stroke-width="3.1"/>
<line x1="1236" y1="1194.4" x2="1308" y2="1149.4" stroke-width="3.1"/>
<line x1="1236" y1="1205.6" x2="1308" y2="1160.6" stroke-width="3.1"/>
<line x1="1236" y1="1216.8" x2="1308" y2="1171.8" stroke-width="3.1"/>
<line x1="1236" y1="1228" x2="1308" y2="1183" stroke-width="3.1"/>
<line x1="1236" y1="1239.2" x2="1308" y2="1194.2" stroke-width="3.1"/>
<line x1="1236" y1="1250.4" x2="1308" y2="1205.4" stroke-width="3.1"/>
<line x1="1236" y1="1261.6" x2="1308" y2="1216.6" stroke-width="3.1"/>
<rect x="1238" y="1207" width="18" height="127" fill="#fff" stroke="none"/>
<rect x="1289" y="1207" width="18" height="127" fill="#fff" stroke="none"/>
<rect x="1241.6" y="1209" width="10.6" height="7" fill="#000" stroke="none" rx="1"/>
<rect x="1241.6" y="1221.5" width="10.6" height="6" fill="#000" stroke="none" rx="1"/>
<rect x="1241.6" y="1229" width="10.6" height="5.5" fill="#000" stroke="none" rx="1"/>
<rect x="1241.6" y="1237" width="10.6" height="3.6" fill="#000" stroke="none" rx="1"/>
<rect x="1241.6" y="1242.4" width="10.6" height="3.4" fill="#000" stroke="none" rx="1"/>
<rect x="1241.6" y="1247.6" width="10.6" height="3.2" fill="#000" stroke="none" rx="1"/>
<rect x="1241.6" y="1252.6" width="10.6" height="3" fill="#000" stroke="none" rx="1"/>
<rect x="1241.6" y="1257.4" width="10.6" height="2.6" fill="#000" stroke="none" rx="1"/>
<rect x="1241.6" y="1262" width="10.6" height="2.2" fill="#000" stroke="none" rx="1"/>
<rect x="1241.6" y="1266.3" width="10.6" height="1.8" fill="#000" stroke="none" rx="1"/>
<rect x="1241.6" y="1270.2" width="10.6" height="1.3" fill="#000" stroke="none" rx="1"/>
<rect x="1241.6" y="1273.6" width="10.6" height="0.9" fill="#000" stroke="none" rx="1"/>
<rect x="1241.6" y="1287.5" width="10.6" height="1" fill="#000" stroke="none" rx="1"/>
<rect x="1241.6" y="1290.5" width="10.6" height="1.8" fill="#000" stroke="none" rx="1"/>
<rect x="1241.6" y="1294.2" width="10.6" height="2.4" fill="#000" stroke="none" rx="1"/>
<rect x="1241.6" y="1298.4" width="10.6" height="2.6" fill="#000" stroke="none" rx="1"/>
<rect x="1241.6" y="1302.5" width="10.6" height="2.2" fill="#000" stroke="none" rx="1"/>
<rect x="1241.6" y="1306" width="10.6" height="1.6" fill="#000" stroke="none" rx="1"/>
<rect x="1241.6" y="1311" width="10.6" height="1.4" fill="#000" stroke="none" rx="1"/>
<rect x="1241.6" y="1317" width="10.6" height="1.6" fill="#000" stroke="none" rx="1"/>
<rect x="1241.6" y="1323" width="10.6" height="1.6" fill="#000" stroke="none" rx="1"/>
<rect x="1292.4" y="1209" width="10.6" height="7" fill="#000" stroke="none" rx="1"/>
<rect x="1292.4" y="1221.5" width="10.6" height="6" fill="#000" stroke="none" rx="1"/>
<rect x="1292.4" y="1229" width="10.6" height="5.5" fill="#000" stroke="none" rx="1"/>
<rect x="1292.4" y="1237" width="10.6" height="3.6" fill="#000" stroke="none" rx="1"/>
<rect x="1292.4" y="1242.4" width="10.6" height="3.4" fill="#000" stroke="none" rx="1"/>
<rect x="1292.4" y="1247.6" width="10.6" height="3.2" fill="#000" stroke="none" rx="1"/>
<rect x="1292.4" y="1252.6" width="10.6" height="3" fill="#000" stroke="none" rx="1"/>
<rect x="1292.4" y="1257.4" width="10.6" height="2.6" fill="#000" stroke="none" rx="1"/>
<rect x="1292.4" y="1262" width="10.6" height="2.2" fill="#000" stroke="none" rx="1"/>
<rect x="1292.4" y="1266.3" width="10.6" height="1.8" fill="#000" stroke="none" rx="1"/>
<rect x="1292.4" y="1270.2" width="10.6" height="1.3" fill="#000" stroke="none" rx="1"/>
<rect x="1292.4" y="1273.6" width="10.6" height="0.9" fill="#000" stroke="none" rx="1"/>
<rect x="1292.4" y="1287.5" width="10.6" height="1" fill="#000" stroke="none" rx="1"/>
<rect x="1292.4" y="1290.5" width="10.6" height="1.8" fill="#000" stroke="none" rx="1"/>
<rect x="1292.4" y="1294.2" width="10.6" height="2.4" fill="#000" stroke="none" rx="1"/>
<rect x="1292.4" y="1298.4" width="10.6" height="2.6" fill="#000" stroke="none" rx="1"/>
<rect x="1292.4" y="1302.5" width="10.6" height="2.2" fill="#000" stroke="none" rx="1"/>
<rect x="1292.4" y="1306" width="10.6" height="1.6" fill="#000" stroke="none" rx="1"/>
<rect x="1292.4" y="1311" width="10.6" height="1.4" fill="#000" stroke="none" rx="1"/>
<rect x="1292.4" y="1317" width="10.6" height="1.6" fill="#000" stroke="none" rx="1"/>
<rect x="1292.4" y="1323" width="10.6" height="1.6" fill="#000" stroke="none" rx="1"/>
</g>
<path d="M1239.5,1134.5 A32.7,33.4 0 0 1 1305,1134.5 V1285 Q1304.5,1296 1300,1303 Q1294,1313 1292.2,1321 Q1291.5,1328 1288,1331.5 H1254 Q1250,1330 1248.5,1324 Q1246,1312 1243,1305 Q1239.8,1299 1239.5,1290 Z" stroke-width="3.4" fill="none"/>
<g clip-path="url(#c5c)">
<rect x="1250" y="1112" width="44" height="222" fill="#fff" stroke="none"/>
<path d="M1263,1125.5 H1283 M1262,1130 H1282 M1268,1125.5 L1278,1130" stroke-width="2.2" fill="none" stroke="#000"/>
<path d="M1266,1134.5 H1272" stroke-width="1.6" fill="none" stroke="#000"/>
<line x1="1250" y1="1137.5" x2="1261" y2="1151" stroke-width="3.1" stroke="#000" stroke-linecap="butt"/>
<line x1="1256.2" y1="1137.5" x2="1267.2" y2="1151" stroke-width="3.1" stroke="#000" stroke-linecap="butt"/>
<line x1="1262.4" y1="1137.5" x2="1273.4" y2="1151" stroke-width="3.1" stroke="#000" stroke-linecap="butt"/>
<line x1="1268.6" y1="1137.5" x2="1279.6" y2="1151" stroke-width="3.1" stroke="#000" stroke-linecap="butt"/>
<line x1="1274.8" y1="1137.5" x2="1285.8" y2="1151" stroke-width="3.1" stroke="#000" stroke-linecap="butt"/>
<line x1="1281" y1="1137.5" x2="1292" y2="1151" stroke-width="3.1" stroke="#000" stroke-linecap="butt"/>
<line x1="1287.2" y1="1137.5" x2="1298.2" y2="1151" stroke-width="3.1" stroke="#000" stroke-linecap="butt"/>
<rect x="1250" y="1150.5" width="44" height="3" fill="#fff" stroke="none"/>
<rect x="1250" y="1134" width="44" height="4" fill="#fff" stroke="none"/>
<path d="M1266,1137 H1270" stroke-width="1.2" fill="none" stroke="#000"/>
<line x1="1262" y1="1166.5" x2="1283" y2="1166.5" stroke-width="0.9" stroke="#000" stroke-dasharray="2 3 1 4 6 3"/>
<line x1="1274" y1="1173" x2="1285" y2="1173" stroke-width="1" stroke="#bbb"/>
<line x1="1259" y1="1179" x2="1285" y2="1179" stroke-width="1.3" stroke="#000"/>
<rect x="1250" y="1182.5" width="44" height="51" fill="#000" stroke="none"/>
<line x1="1255" y1="1170" x2="1291" y2="1200.2" stroke-width="2.3"/>
<line x1="1255" y1="1184" x2="1291" y2="1214.2" stroke-width="2.3"/>
<line x1="1255" y1="1198" x2="1291" y2="1228.2" stroke-width="2.3"/>
<line x1="1255" y1="1212" x2="1291" y2="1242.2" stroke-width="2.3"/>
<line x1="1255" y1="1226" x2="1291" y2="1256.2" stroke-width="2.3"/>
<rect x="1258" y="1237.5" width="29.5" height="1.6" fill="#000" stroke="none" rx="1.6"/>
<rect x="1258" y="1241.5" width="29.5" height="2.6" fill="#000" stroke="none" rx="1.6"/>
<rect x="1258" y="1247.3" width="29.5" height="3.8" fill="#000" stroke="none" rx="1.6"/>
<rect x="1258" y="1254.4" width="29.5" height="4.4" fill="#000" stroke="none" rx="1.6"/>
<rect x="1258" y="1262" width="29.5" height="4.4" fill="#000" stroke="none" rx="1.6"/>
<rect x="1258" y="1269.6" width="29.5" height="4" fill="#000" stroke="none" rx="1.6"/>
<rect x="1258" y="1276.3" width="30" height="36" fill="#000" stroke="none"/>
<line x1="1267" y1="1292.3" x2="1283" y2="1292.3" stroke-width="1.6"/>
<line x1="1258" y1="1293.5" x2="1261" y2="1292" stroke-width="1.4"/>
<line x1="1269" y1="1298.6" x2="1286" y2="1298.6" stroke-width="1.7"/>
<line x1="1258" y1="1299.6" x2="1263" y2="1298.4" stroke-width="1.4"/>
<line x1="1258" y1="1304" x2="1288" y2="1304" stroke-width="1.8"/>
<line x1="1258" y1="1308.6" x2="1288" y2="1308.2" stroke-width="1.9"/>
<line x1="1258" y1="1311.6" x2="1288" y2="1311" stroke-width="1.2"/>
<line x1="1259" y1="1313.6" x2="1268" y2="1313.6" stroke-width="1.1" stroke="#000"/>
<line x1="1259.5" y1="1316.8" x2="1286" y2="1316.8" stroke-width="0.9" stroke="#000"/>
<line x1="1260" y1="1319.4" x2="1287" y2="1319.4" stroke-width="1.3" stroke="#000" stroke-dasharray="20 1.5 3 1"/>
<line x1="1261" y1="1321.6" x2="1285" y2="1321.6" stroke-width="0.9" stroke="#000"/>
</g>
<path d="M1254.5,1331 V1134.8 A17.7,18 0 0 1 1289.9,1134.8 V1331" stroke-width="3.6" fill="none"/>
<line x1="1239" y1="1207.6" x2="1255" y2="1207.6" stroke-width="1.7"/>
<line x1="1290" y1="1207.6" x2="1305" y2="1207.6" stroke-width="1.7"/>
<path d="M1246.8,1339.8 L1252.4,1342.4 L1245.6,1348.8 L1251.7,1355.9 L1247.6,1361.5" stroke-width="2.9" fill="none"/>
<path d="M1247.6,1361.5 L1249.4,1440 L1250,1488 Q1250.5,1498 1259,1499.4 Q1271,1500 1273.6,1490 L1274.6,1440 L1275,1397 L1275,1334" stroke-width="4.3" fill="none"/>
<path d="M1266,1334 L1268.8,1440 L1269.2,1468 L1274,1468 L1275,1334 Z" stroke-width="1" fill="#fff"/>
<line x1="1271.6" y1="1336" x2="1272.2" y2="1420" stroke-width="1.5" stroke="#000"/>
<path d="M1250,1470 Q1258,1462 1268,1466 L1274,1466 L1273.6,1490 Q1271,1500 1259,1499.4 Q1250.5,1498 1250,1488 Z" stroke-width="1" fill="#fff"/>
<line x1="1256" y1="1477" x2="1259" y2="1477.6" stroke-width="1.2" stroke="#000"/>
<line x1="1262" y1="1477.5" x2="1265" y2="1478.1" stroke-width="1.2" stroke="#000"/>
<line x1="1255" y1="1482" x2="1259.5" y2="1482.6" stroke-width="1.2" stroke="#000"/>
<line x1="1262.5" y1="1482.5" x2="1265.5" y2="1483.1" stroke-width="1.2" stroke="#000"/>
<line x1="1256" y1="1487" x2="1260" y2="1487.6" stroke-width="1.2" stroke="#000"/>
<line x1="1263" y1="1487.5" x2="1266" y2="1488.1" stroke-width="1.2" stroke="#000"/>
<line x1="1257" y1="1492" x2="1261" y2="1492.6" stroke-width="1.2" stroke="#000"/>
<line x1="1258" y1="1495.5" x2="1260" y2="1496.1" stroke-width="1.2" stroke="#000"/>
<path d="M1251,1333 L1265,1334 L1266,1345 L1253,1343 Z" stroke-width="1" fill="#000" stroke="#000"/>
<path d="M1284.4,1332 V1378 Q1284,1392 1275.5,1396" stroke-width="2.6" fill="none"/>
<text class="n" x="1317" y="1094" font-size="27">26</text>
<line x1="1307" y1="1090" x2="1297" y2="1098.5" stroke-width="2.2"/>
<text class="n" x="1354" y="1143" font-size="27">17</text>
<path d="M1344.5,1138 Q1318,1143 1294,1147.7" stroke-width="2.2" fill="none"/>
<text class="n" x="1176" y="1186" font-size="27">9</text>
<path d="M1191.5,1184 Q1218,1184.5 1242,1181" stroke-width="2.2" fill="none"/>
<text class="n" x="1175" y="1236" font-size="27">10</text>
<path d="M1219.5,1220.4 Q1246,1219 1270,1213" stroke-width="2.2" fill="none"/>
<text class="n" x="1168" y="1331" font-size="26">28</text>
<path d="M1200,1332 Q1212,1343 1246.8,1340.3" stroke-width="2.2" fill="none"/>
<text class="n" x="1150" y="1365" font-size="26">25</text>
<path d="M1189.7,1361.7 Q1220,1361 1246.8,1355.9" stroke-width="2.2" fill="none"/>
<text class="n" x="1322" y="1326" font-size="26">23</text>
<line x1="1293.5" y1="1314.9" x2="1316" y2="1315.6" stroke-width="2.2"/>
<text class="n" x="1317" y="1358" font-size="27">7</text>
<line x1="1273.6" y1="1345.3" x2="1311" y2="1343.8" stroke-width="2.2"/>
<text class="n" x="1322" y="1394" font-size="26">27</text>
<line x1="1285.7" y1="1378.5" x2="1310.4" y2="1384.2" stroke-width="2.2"/>
<text class="n" x="1178" y="1455" font-size="26">29</text>
<line x1="1222.4" y1="1442" x2="1256" y2="1440" stroke-width="2.2"/>
<g transform="translate(1323.6,1188.7) skewX(-24) scale(0.9,1)"><text class="fm" x="0 30.8 44.2 61.4 82.4 101.4" y="0" font-size="42.4" stroke="#fff" stroke-width="1.4">Fig.5.</text></g>
<path d="M1336,1210 H1362 L1377,1180" stroke-width="3.1" fill="none"/>
<line x1="1322" y1="1163" x2="1358" y2="1163" stroke-width="4.1"/>
<path d="M961.2,1580 C961.2,1566.7 961.2,1520 961.2,1500 C961.2,1480 960.8,1468.7 961.2,1460 C961.6,1451.3 962.5,1451.7 963.5,1448 C964.5,1444.3 966.4,1441.7 967.5,1438 C968.6,1434.3 970.3,1429.8 970.4,1426 C970.5,1422.2 969.6,1419 968.3,1415.5 C967,1412 964.2,1408.2 962.5,1405 C960.8,1401.8 959.3,1399.2 958,1396 C956.7,1392.8 955.2,1389 954.6,1386 C954,1383 953.9,1381.3 954.1,1378 C954.3,1374.7 954.7,1369.8 956,1366 C957.3,1362.2 959.3,1358.4 962,1355 C964.7,1351.6 968.2,1348.2 972,1345.5 C975.8,1342.8 980.3,1340.4 985,1339 C989.7,1337.6 995.2,1337.2 1000,1337.3 C1004.8,1337.4 1009.7,1338 1014,1339.5 C1018.3,1341 1022.5,1343.2 1026,1346 C1029.5,1348.8 1032.5,1352.3 1035,1356 C1037.5,1359.7 1039.6,1363.4 1041,1368 C1042.4,1372.6 1043,1378.3 1043.3,1383.6 C1043.6,1388.9 1043.2,1394.8 1043,1400 C1042.8,1405.2 1042.5,1410.7 1042.3,1415 C1042.1,1419.3 1042.1,1422.3 1041.8,1426 C1041.5,1429.7 1041.3,1433.5 1040.5,1437 C1039.7,1440.5 1038.6,1443.8 1037,1447 C1035.4,1450.2 1033,1453 1031,1456 C1029,1459 1026.9,1462 1024.9,1464.8 C1022.9,1467.6 1020.6,1470.1 1019,1473 C1017.4,1475.9 1016,1479.6 1015,1482.4 C1014,1485.2 1013.6,1487.6 1013.2,1490 C1012.8,1492.4 1012.9,1484.9 1012.8,1496.6 C1012.7,1508.3 1012.8,1537.1 1012.8,1560 C1012.8,1582.9 1012.8,1621.7 1012.8,1634" stroke-width="3.6" fill="none"/>
<path d="M965.4,1580 C965.4,1566.7 965.4,1520 965.4,1500 C965.4,1480 965,1468.7 965.4,1460.2 C965.8,1451.7 966.5,1452.6 967.5,1449.2 C968.6,1445.7 970.3,1443.1 971.5,1439.3 C972.7,1435.4 974.5,1430.4 974.6,1426.1 C974.7,1421.9 973.6,1417.9 972.2,1414 C970.8,1410.2 967.9,1406.3 966.2,1403 C964.5,1399.8 963.1,1397.4 961.9,1394.4 C960.6,1391.4 959.3,1387.8 958.7,1385.1 C958.1,1382.4 958.1,1381.3 958.3,1378.3 C958.5,1375.3 958.8,1370.8 960,1367.4 C961.1,1363.9 962.9,1360.7 965.3,1357.6 C967.7,1354.5 970.9,1351.4 974.4,1348.9 C977.9,1346.5 981.9,1344.3 986.2,1343 C990.4,1341.8 995.5,1341.4 999.9,1341.5 C1004.3,1341.6 1008.8,1342.2 1012.7,1343.5 C1016.6,1344.8 1020.3,1346.8 1023.4,1349.3 C1026.5,1351.8 1029.3,1355 1031.5,1358.4 C1033.8,1361.7 1035.7,1365 1037,1369.2 C1038.2,1373.5 1038.8,1378.8 1039.1,1383.9 C1039.4,1389 1039,1394.7 1038.8,1399.9 C1038.6,1405 1038.3,1410.5 1038.1,1414.8 C1037.9,1419.1 1037.9,1422.1 1037.6,1425.7 C1037.3,1429.2 1037.1,1432.8 1036.4,1436.1 C1035.7,1439.3 1034.7,1442.2 1033.2,1445.1 C1031.8,1448.1 1029.5,1450.8 1027.5,1453.6 C1025.6,1456.5 1023.5,1459.5 1021.5,1462.4 C1019.4,1465.3 1017.1,1467.8 1015.3,1470.9 C1013.6,1474.1 1012.1,1478 1011,1481 C1010,1484.1 1009.5,1486.8 1009,1489.4 C1008.6,1491.9 1008.7,1484.8 1008.6,1496.6 C1008.5,1508.3 1008.6,1537.1 1008.6,1560 C1008.6,1582.9 1008.6,1621.7 1008.6,1634" stroke-width="7.4" fill="none" stroke-dasharray="2.2 4" stroke-linecap="butt"/>
<path d="M969.6,1580 C969.6,1566.7 969.6,1519.9 969.6,1500 C969.6,1480.1 969.3,1468.7 969.6,1460.4 C969.9,1452.1 970.6,1453.6 971.6,1450.3 C972.6,1447 974.3,1444.5 975.5,1440.5 C976.7,1436.5 978.7,1431 978.8,1426.3 C978.9,1421.6 977.6,1416.7 976.2,1412.5 C974.7,1408.3 971.7,1404.4 969.9,1401.1 C968.2,1397.8 966.9,1395.6 965.8,1392.8 C964.6,1390 963.4,1386.6 962.8,1384.2 C962.3,1381.9 962.3,1381.2 962.5,1378.6 C962.7,1376 962.9,1371.8 963.9,1368.7 C965,1365.7 966.5,1362.9 968.6,1360.2 C970.8,1357.4 973.7,1354.6 976.8,1352.4 C979.9,1350.2 983.5,1348.2 987.4,1347.1 C991.2,1345.9 995.9,1345.6 999.9,1345.7 C1003.9,1345.8 1007.8,1346.3 1011.3,1347.5 C1014.8,1348.6 1018,1350.4 1020.8,1352.6 C1023.6,1354.8 1026,1357.8 1028.1,1360.7 C1030.1,1363.7 1031.8,1366.5 1033,1370.4 C1034.1,1374.3 1034.6,1379.2 1034.9,1384.1 C1035.2,1389 1034.8,1394.7 1034.6,1399.7 C1034.4,1404.8 1034.1,1410.3 1033.9,1414.6 C1033.7,1418.9 1033.7,1421.9 1033.4,1425.3 C1033.2,1428.7 1033,1432.1 1032.3,1435.1 C1031.7,1438.1 1030.9,1440.6 1029.5,1443.2 C1028.1,1445.9 1026,1448.5 1024.1,1451.3 C1022.1,1454.1 1020.1,1457 1018,1460 C1016,1462.9 1013.5,1465.6 1011.7,1468.9 C1009.8,1472.2 1008.2,1476.4 1007,1479.7 C1005.9,1483 1005.3,1485.9 1004.9,1488.7 C1004.5,1491.5 1004.5,1484.7 1004.4,1496.6 C1004.3,1508.4 1004.4,1537.1 1004.4,1560 C1004.4,1582.9 1004.4,1621.7 1004.4,1634" stroke-width="3.1" fill="none"/>
<path d="M961.2,1578 Q962,1584 969.7,1589.7 L976.8,1592.5" stroke-width="3.1" fill="none"/>
<path d="M969.6,1575 Q970,1583 975,1588" stroke-width="2.4" fill="none"/>
<clipPath id="c6r"><path d="M972,1431 Q966,1408 963.5,1392 Q962,1370 975,1355 Q988,1345.5 1000,1346 Q1016,1347 1027,1358 Q1035,1369 1034,1392 L1033,1420 Q1031,1440 1018,1455 Q1008,1466 1004,1476 L996,1476 L995,1468.3 Q986,1468 983,1460 Q979,1448 972,1431 Z"/></clipPath>
<g clip-path="url(#c6r)">
<line x1="955" y1="1386" x2="1045" y2="1315.7" stroke-width="2.8"/>
<line x1="955" y1="1394.6" x2="1045" y2="1324.3" stroke-width="2.8"/>
<line x1="955" y1="1403.2" x2="1045" y2="1332.9" stroke-width="2.8"/>
<line x1="955" y1="1411.8" x2="1045" y2="1341.5" stroke-width="2.8"/>
<line x1="955" y1="1420.4" x2="1045" y2="1350.1" stroke-width="2.8"/>
<line x1="955" y1="1429" x2="1045" y2="1358.7" stroke-width="2.8"/>
<line x1="955" y1="1437.6" x2="1045" y2="1367.3" stroke-width="2.8"/>
<line x1="955" y1="1446.2" x2="1045" y2="1375.9" stroke-width="2.8"/>
<line x1="955" y1="1454.8" x2="1045" y2="1384.5" stroke-width="2.8"/>
<line x1="955" y1="1463.4" x2="1045" y2="1393.1" stroke-width="2.8"/>
<line x1="955" y1="1472" x2="1045" y2="1401.7" stroke-width="2.8"/>
<line x1="955" y1="1480.6" x2="1045" y2="1410.3" stroke-width="2.8"/>
<line x1="955" y1="1489.2" x2="1045" y2="1418.9" stroke-width="2.8"/>
<line x1="955" y1="1497.8" x2="1045" y2="1427.5" stroke-width="2.8"/>
<line x1="955" y1="1506.4" x2="1045" y2="1436.1" stroke-width="2.8"/>
<line x1="955" y1="1515" x2="1045" y2="1444.7" stroke-width="2.8"/>
<line x1="955" y1="1523.6" x2="1045" y2="1453.3" stroke-width="2.8"/>
<line x1="955" y1="1532.2" x2="1045" y2="1461.9" stroke-width="2.8"/>
<line x1="955" y1="1540.8" x2="1045" y2="1470.5" stroke-width="2.8"/>
<line x1="955" y1="1549.4" x2="1045" y2="1479.1" stroke-width="2.8"/>
<line x1="955" y1="1558" x2="1045" y2="1487.7" stroke-width="2.8"/>
<line x1="955" y1="1566.6" x2="1045" y2="1496.3" stroke-width="2.8"/>
</g>
<path d="M972,1431 Q966,1408 963.5,1392 Q962,1370 975,1355 Q988,1345.5 1000,1346 Q1016,1347 1027,1358 Q1035,1369 1034,1392 L1033,1420 Q1031,1440 1018,1455 Q1008,1466 1004,1476 L996,1476 L995,1468.3 Q986,1468 983,1460 Q979,1448 972,1431 Z" stroke-width="2.6" fill="none"/>
<path d="M999,1364.5 Q982,1366 981.5,1381 Q982,1392 991,1400 Q996,1404 999,1409 Q1002,1404 1008,1399 Q1017.5,1391 1017.5,1380 Q1016,1366 999,1364.5 Z" stroke-width="2.9" fill="#000"/>
<path d="M1019,1406 Q1026,1400 1031,1403 L1031,1425 Q1030,1438 1022,1448 L1019,1452 Z" stroke-width="2.4" fill="#000"/>
<line x1="1019" y1="1431" x2="1041" y2="1428" stroke-width="2.2"/>
<rect x="995.2" y="1364" width="7.4" height="276" fill="#000" stroke="none"/>
<line x1="998.9" y1="1366" x2="998.9" y2="1640" stroke-width="5.3" stroke-dasharray="1.6 3.6" stroke-linecap="butt"/>
<line x1="995.2" y1="1364" x2="995.2" y2="1640" stroke-width="2.6"/>
<line x1="1002.6" y1="1364" x2="1002.6" y2="1640" stroke-width="2.6"/>
<path d="M979.6,1450.6 Q981,1464 987,1467 L995,1468.3" stroke-width="2.6" fill="none"/>
<line x1="972.2" y1="1485.3" x2="995.2" y2="1485.3" stroke-width="2.6"/>
<line x1="972.2" y1="1502.2" x2="995.2" y2="1502.2" stroke-width="2.6"/>
<clipPath id="c6b"><path d="M972.5,1503 H995 V1638 H974 V1610 L979.6,1603.8 L973.2,1598.2 L976.8,1592.5 Z"/></clipPath>
<g clip-path="url(#c6b)">
<line x1="970" y1="1528" x2="997" y2="1490.8" stroke-width="2.2"/>
<line x1="970" y1="1541.2" x2="997" y2="1504" stroke-width="2.2"/>
<line x1="970" y1="1554.4" x2="997" y2="1517.2" stroke-width="2.2"/>
<line x1="970" y1="1567.6" x2="997" y2="1530.4" stroke-width="2.2"/>
<line x1="970" y1="1580.8" x2="997" y2="1543.6" stroke-width="2.2"/>
<line x1="970" y1="1594" x2="997" y2="1556.8" stroke-width="2.2"/>
<line x1="970" y1="1607.2" x2="997" y2="1570" stroke-width="2.2"/>
<line x1="970" y1="1620.4" x2="997" y2="1583.2" stroke-width="2.2"/>
<line x1="970" y1="1633.6" x2="997" y2="1596.4" stroke-width="2.2"/>
<line x1="970" y1="1646.8" x2="997" y2="1609.6" stroke-width="2.2"/>
<line x1="970" y1="1660" x2="997" y2="1622.8" stroke-width="2.2"/>
<line x1="970" y1="1673.2" x2="997" y2="1636" stroke-width="2.2"/>
<line x1="970" y1="1686.4" x2="997" y2="1649.2" stroke-width="2.2"/>
<line x1="970" y1="1699.6" x2="997" y2="1662.4" stroke-width="2.2"/>
</g>
<path d="M973,1504 L977,1516 L973.5,1520 L978,1532 L974.5,1536 L979,1548 L975.5,1552 L980,1564 L976.5,1568 L981,1580 L977,1586" stroke-width="1.9" fill="none"/>
<path d="M976.8,1592.5 L973.2,1598.2 L979.6,1603.8 L973.2,1609.5 L974,1638.5" stroke-width="2.9" fill="none"/>
<path d="M1012.2,1634 Q1012,1640.6 1005,1640.6 H1000" stroke-width="2.9" fill="none"/>
<path d="M974,1638.5 L973.4,1652 L975,1700 L975.6,1735 Q976.5,1745 987,1745.8 Q997.5,1745 998.4,1735 L999.4,1700 L1000.1,1640" stroke-width="3.1" fill="none"/>
<path d="M974.5,1639.5 H1000 L999.4,1700 L998.4,1735 Q997.5,1745 987,1745.8 Q976.5,1745 975.6,1735 L975,1700 L973.6,1652 Z" stroke-width="1" fill="#fff"/>
<path d="M977.5,1652.3 H993 L994,1670 L993.6,1700 L993.2,1728 Q989,1735 982,1733 Q978.6,1731 978.6,1725 L978,1690 Z" stroke-width="1" fill="#000" stroke="#000"/>
<line x1="978" y1="1647" x2="994" y2="1647" stroke-width="1" stroke="#000"/>
<line x1="977" y1="1649.6" x2="993" y2="1649.6" stroke-width="1" stroke="#000" stroke-dasharray="6 2"/>
<text class="n" x="1046" y="1347" font-size="27">26</text>
<path d="M1040,1334 Q1030,1336 1025,1344" stroke-width="2.2" fill="none"/>
<text class="n" x="911" y="1377" font-size="27">8</text>
<line x1="925.4" y1="1373" x2="953.4" y2="1377" stroke-width="2.2"/>
<text class="n" x="907" y="1441" font-size="27">14</text>
<line x1="943" y1="1433" x2="988" y2="1433" stroke-width="2.2"/>
<text class="n" x="1063" y="1434" font-size="27">14</text>
<path d="M1058.8,1426.3 Q1040,1428 1019.6,1430" stroke-width="2.2" fill="none"/>
<text class="n" x="908" y="1489" font-size="27">7</text>
<path d="M920.7,1481.4 Q940,1485 972,1485.3" stroke-width="2.2" fill="none"/>
<text class="n" x="1031" y="1566" font-size="27">27</text>
<line x1="1012.8" y1="1554.5" x2="1030.8" y2="1552.6" stroke-width="2.2"/>
<text class="n" x="889" y="1581" font-size="27">28</text>
<path d="M925.4,1579.7 Q945,1592 974.9,1591.8" stroke-width="2.2" fill="none"/>
<text class="n" x="887" y="1615" font-size="27">25</text>
<line x1="931" y1="1606.8" x2="969" y2="1604" stroke-width="2.2"/>
<text class="n" x="908" y="1664" font-size="27">29</text>
<line x1="944" y1="1653.4" x2="971" y2="1652.5" stroke-width="2.2"/>
<g transform="translate(829,1537.4) skewX(-24) scale(0.9,1)"><text class="fm" x="0 31.2 43.9 61 77.6 92.6" y="0" font-size="35.5" stroke="#fff" stroke-width="1.4">Fig.6.</text></g>
<path d="M848,1554 H870.4 L884,1530" stroke-width="3.1" fill="none"/>
<line x1="825.5" y1="1515.5" x2="860" y2="1515.5" stroke-width="3.8"/>
<text class="wd" x="531" y="1686.4" font-size="35" textLength="218" lengthAdjust="spacingAndGlyphs">Witnesses.</text>
<text class="sg" x="540" y="1721.6" font-size="37" textLength="170" lengthAdjust="spacingAndGlyphs">S.H. Clarke</text>
<path d="M706,1717.5 C708.3,1716.8 715.3,1714.2 720,1713 C724.7,1711.8 729.3,1710.7 734,1710.4 C738.7,1710.1 744,1710.2 748,1711 C752,1711.8 755.2,1713.3 758,1715 C760.8,1716.7 762.9,1718.6 764.5,1721 C766.1,1723.4 767,1728.2 767.5,1729.6" stroke-width="2.2" fill="none"/>
<text class="sg" x="572" y="1755" font-size="32" textLength="130" lengthAdjust="spacingAndGlyphs">P. J. Egan</text>
<text class="wd" x="1244" y="1687.6" font-size="35" textLength="196" lengthAdjust="spacingAndGlyphs">Inventor.</text>
<text class="sg" x="1202" y="1724" font-size="34" textLength="254" lengthAdjust="spacingAndGlyphs">Alonzo A. Warner.</text>
<text class="wd" x="1124" y="1762" font-size="36" textLength="75" lengthAdjust="spacingAndGlyphs">By</text>
<path d="M1150.4,1786.8 H1176 L1190,1763" stroke-width="3.1" fill="none"/>
<text class="sg" x="1212" y="1759.4" font-size="39" textLength="220" lengthAdjust="spacingAndGlyphs">James Shepard.</text>
<text class="sg" x="1381" y="1794.9" font-size="38" textLength="75" lengthAdjust="spacingAndGlyphs">Atty.</text>
<path d="M1413.6,1805 H1437.8 L1446,1792" stroke-width="2.9" fill="none"/>
</g>
</svg>
</body></html>
